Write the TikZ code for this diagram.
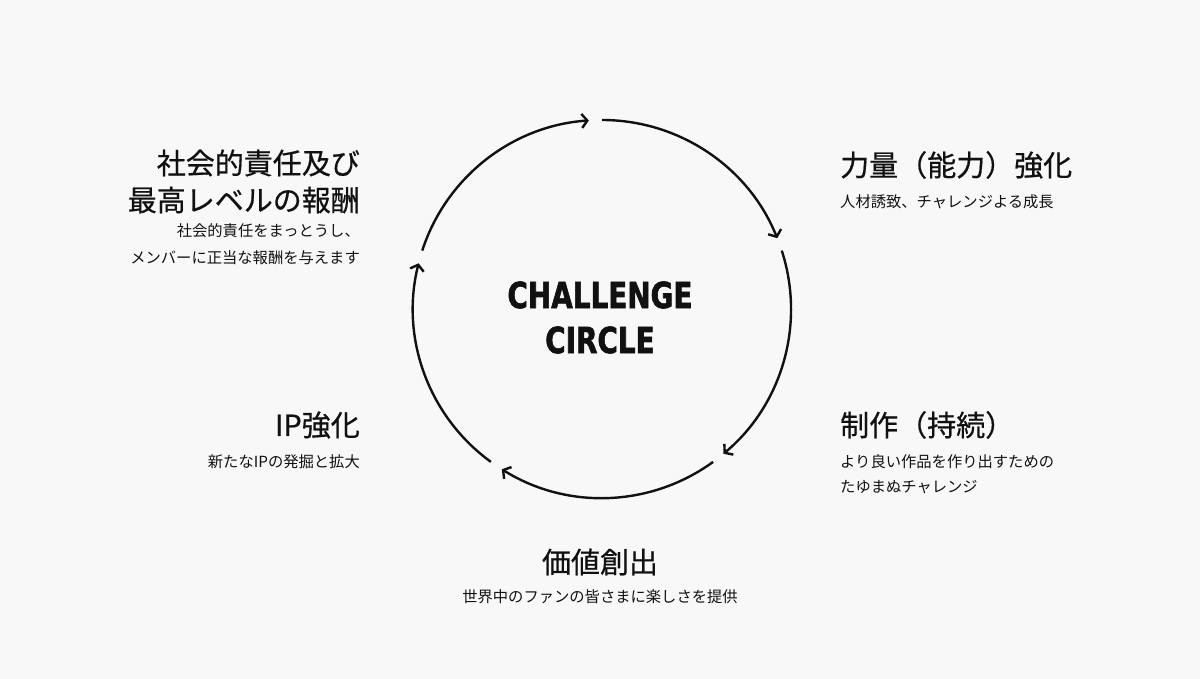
\documentclass[tikz,border=0pt]{standalone}
\usepackage{fontspec}
\usetikzlibrary{arrows.meta}
\newfontfamily\jpfont{Noto Sans CJK JP}
\newfontfamily\jpheadfont[FakeBold=0.6]{Noto Sans CJK JP}
\newfontfamily\titlefont[FakeStretch=0.86,FakeBold=1.6]{DejaVu Sans Condensed Bold}
\definecolor{bg}{RGB}{248,248,248}
\definecolor{ink}{RGB}{17,17,17}
\begin{document}
\begin{tikzpicture}[x=1pt,y=1pt,
    cyc/.style={line width=2.4pt,draw=ink,-{Straight Barb[length=5.5pt,width=14pt]}},
    head/.style={inner sep=0pt,text=ink,font=\jpheadfont\fontsize{29}{29}\selectfont},
    sub/.style={inner sep=0pt,text=ink,font=\jpfont\fontsize{15.3}{15.3}\selectfont},
    ttl/.style={inner sep=0pt,text=ink,font=\titlefont\fontsize{36}{36}\selectfont}]
  \fill[bg] (0,0) rectangle (1200,679);
  \coordinate (c) at (602,370);
  % the cycle
  \begin{scope}[cyc]
    \draw ([shift={(90:189pt)}]c) arc[start angle=90,end angle=22,radius=189pt];
    \draw ([shift={(18:189pt)}]c) arc[start angle=18,end angle=-50,radius=189pt];
    \draw ([shift={(-54:189pt)}]c) arc[start angle=-54,end angle=-122,radius=189pt];
    \draw ([shift={(-126:189pt)}]c) arc[start angle=-126,end angle=-194,radius=189pt];
    \draw ([shift={(162:189pt)}]c) arc[start angle=162,end angle=94,radius=189pt];
  \end{scope}
  \node[ttl] (t1) at (600,384) {CHALLENGE};
  \node[ttl] (t2) at (600,339) {CIRCLE};
  % labels
  \node[head,anchor=east] (h1a) at (360,516) {社会的責任及び};
  \node[head,anchor=east] (h1b) at (360,479) {最高レベルの報酬};
  \node[sub,anchor=east] (s1a) at (360,448) {社会的責任をまっとうし、};
  \node[sub,anchor=east] (s1b) at (360,421) {メンバーに正当な報酬を与えます};
  \node[head,anchor=west] (h2) at (840,514) {力量（能力）強化};
  \node[sub,anchor=west] (s2) at (840,477) {人材誘致、チャレンジよる成長};
  \node[head,anchor=west] (h3) at (840,254) {制作（持続）};
  \node[sub,anchor=west] (s3a) at (840,217) {より良い作品を作り出すための};
  \node[sub,anchor=west] (s3b) at (840,192) {たゆまぬチャレンジ};
  \node[head] (h4) at (600,117) {価値創出};
  \node[sub] (s4) at (600,82) {世界中のファンの皆さまに楽しさを提供};
  \node[head,anchor=east] (h5) at (360,254) {IP強化};
  \node[sub,anchor=east] (s5) at (360,217) {新たなIPの発掘と拡大};
\end{tikzpicture}
\end{document}
